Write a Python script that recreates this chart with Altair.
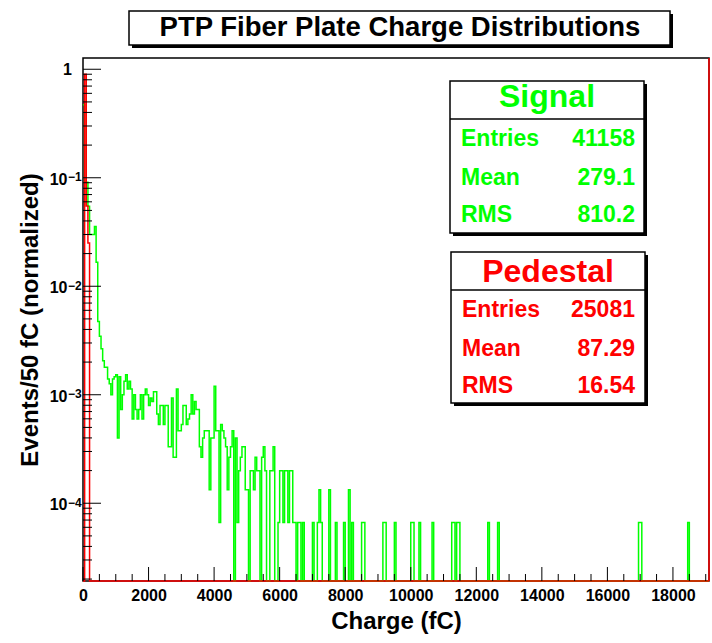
import altair as alt
import pandas as pd

# Plot-area size in pixels and axis ranges
W, H = 626, 523
X_MAX = 19100            # fC
BIN = 50                 # fC per bin
Y_MIN, Y_MAX = 1.92e-5, 1.27
NORM = 1.0 / 15040       # events -> normalized units

FONT = "Liberation Sans"
GREEN = "#00ff00"
RED = "#ff0000"

# Signal: events per 50 fC bin, bins 0..131
sig_counts = [
    7068, 1368, 1368, 820, 451, 451, 451, 535, 250, 71,
    52, 40, 31, 27, 27, 21, 19, 15, 21, 22,
    23, 6, 22, 11, 15, 20, 23, 17, 20, 17,
    9, 15, 11, 9, 11, 15, 9, 15, 17, 15,
    12, 14, 13, 16, 16, 10, 8, 12, 12, 8,
    12, 12, 5, 5, 14, 4, 4, 17, 7, 7,
    8, 12, 12, 8, 9, 10, 15, 10, 13, 11,
    11, 5, 4, 6, 7, 7, 7, 2, 6, 6,
    18, 7, 7, 1, 8, 7, 6, 5, 2, 4,
    5, 7, 0, 6, 1, 3, 4, 5, 5, 2,
    2, 0, 3, 3, 2, 4, 3, 3, 0, 4,
    5, 3, 0, 0, 3, 3, 5, 0, 0, 1,
    3, 3, 1, 3, 3, 1, 3, 3, 1, 1,
    0, 1,
]
# Signal tail: isolated non-empty bins beyond 6.6 pC
tail_bins = [132, 134, 140, 143, 144, 145, 150, 154, 159, 162, 164, 170, 171,
             183, 184, 190, 200, 201, 205, 213, 225, 226, 228, 229, 247, 253,
             339, 340, 369]
tail_counts = [1, 1, 1, 1, 2, 1, 2, 1, 1, 2, 1, 1, 1,
               1, 1, 1, 1, 1, 1, 1, 1, 1, 1, 1, 1, 1,
               1, 1, 1]

# Pedestal: normalized content of the first bins (rest empty)
ped_vals = [0.0, 0.9, 0.055, 0.025]

sig_stats = [("Entries", "41158"), ("Mean", "279.1"), ("RMS", "810.2")]
ped_stats = [("Entries", "25081"), ("Mean", "87.29"), ("RMS", "16.54")]

x_major = list(range(0, 18001, 2000))
x_minor = [v for v in range(500, 19001, 500) if v % 2000]
y_decades = [1e-4, 1e-3, 1e-2, 1e-1]
y_exponents = ["\u22124", "\u22123", "\u22122", "\u22121"]
y_minor = [m * 10.0 ** e for e in range(-5, 0) for m in range(2, 10)
           if Y_MIN <= m * 10.0 ** e <= Y_MAX]

N_BINS = X_MAX // BIN

sig_full = [0] * N_BINS
for i, c in enumerate(sig_counts):
    sig_full[i] = c
for b, c in zip(tail_bins, tail_counts):
    sig_full[b] = c
sig_norm = [c * NORM for c in sig_full]

ped_full = ped_vals + [0.0] * (N_BINS - len(ped_vals))


def step_frame(vals):
    # empty bins sit on the lower edge of the log axis
    ys = [max(v, Y_MIN) for v in vals]
    xs = [i * BIN for i in range(N_BINS)] + [X_MAX]
    return pd.DataFrame({"charge": xs, "value": ys + [ys[-1]]})


sig_df = step_frame(sig_norm)
ped_df = step_frame(ped_full)

x_scale = alt.Scale(domain=[0, X_MAX], nice=False, zero=False)
y_scale = alt.Scale(type="log", domain=[Y_MIN, Y_MAX], nice=False)

signal = alt.Chart(sig_df).mark_line(
    interpolate="step-after", color=GREEN, strokeWidth=1.5
).encode(
    x=alt.X("charge:Q", scale=x_scale, axis=alt.Axis(
        values=x_major, format="d", labelFont=FONT, labelFontSize=16,
        labelFontWeight="bold", labelColor="black", ticks=False, tickSize=0,
        domain=False, grid=False, labelPadding=6, labelFlush=False,
        labelOverlap=False, title="Charge (fC)", titleFont=FONT,
        titleFontSize=24, titleFontWeight="bold", titleColor="black",
        titleBaseline="alphabetic", titleX=W / 2, titleY=47)),
    y=alt.Y("value:Q", scale=y_scale, axis=alt.Axis(
        values=y_decades, labels=False, ticks=False, tickSize=0,
        domain=False, grid=False, title="Events/50 fC (normalized)",
        titleFont=FONT, titleFontSize=24, titleFontWeight="bold",
        titleColor="black", titleAngle=270, titleBaseline="alphabetic",
        titleAlign="center", titleX=-46, titleY=H / 2)),
)

pedestal = alt.Chart(ped_df).mark_line(
    interpolate="step-after", color=RED, strokeWidth=1.5
).encode(
    x=alt.X("charge:Q", scale=x_scale, axis=None),
    y=alt.Y("value:Q", scale=y_scale, axis=None),
)

right_edge = alt.Chart(pd.DataFrame({"charge": [X_MAX]})).mark_rule(
    color=RED, strokeWidth=1.5
).encode(x=alt.X("charge:Q", scale=x_scale, axis=None),
         y=alt.value(0), y2=alt.value(H))


# Inward-pointing ticks along the bottom and left edges
def x_ticks(values, length):
    return alt.Chart(pd.DataFrame({"charge": values})).mark_rule(
        color="black", strokeWidth=1
    ).encode(x=alt.X("charge:Q", scale=x_scale, axis=None),
             y=alt.value(H), y2=alt.value(H - length))


def y_ticks(values, length):
    return alt.Chart(pd.DataFrame({"value": values})).mark_rule(
        color="black", strokeWidth=1
    ).encode(y=alt.Y("value:Q", scale=y_scale, axis=None),
             x=alt.value(0), x2=alt.value(length))


# Decade labels: "1" and 10 with a raised exponent
dec_df = pd.DataFrame({"value": y_decades, "exp": y_exponents})
label_ten = alt.Chart(dec_df).mark_text(
    text="10", font=FONT, fontSize=16, fontWeight="bold", color="black",
    align="right", baseline="alphabetic", dy=7
).encode(y=alt.Y("value:Q", scale=y_scale, axis=None), x=alt.value(-15.5))
label_exp = alt.Chart(dec_df).mark_text(
    font=FONT, fontSize=12, fontWeight="bold", color="black",
    align="left", baseline="alphabetic", dy=3.5
).encode(y=alt.Y("value:Q", scale=y_scale, axis=None), x=alt.value(-15),
         text="exp:N")
label_one = alt.Chart(pd.DataFrame({"value": [1.0]})).mark_text(
    text="1", font=FONT, fontSize=16, fontWeight="bold", color="black",
    align="right", baseline="alphabetic", dy=6
).encode(y=alt.Y("value:Q", scale=y_scale, axis=None), x=alt.value(-11))

ONE = pd.DataFrame({"k": [0]})


def box(x0, y0, x1, y1):
    shadow = alt.Chart(ONE).mark_rect(fill="black").encode(
        x=alt.value(x0 + 3), x2=alt.value(x1 + 3),
        y=alt.value(y0 + 3), y2=alt.value(y1 + 3))
    face = alt.Chart(ONE).mark_rect(
        fill="white", stroke="black", strokeWidth=1.5
    ).encode(x=alt.value(x0), x2=alt.value(x1), y=alt.value(y0), y2=alt.value(y1))
    return [shadow, face]


def divider(x0, x1, y):
    return alt.Chart(ONE).mark_rule(color="black", strokeWidth=1.5).encode(
        x=alt.value(x0), x2=alt.value(x1), y=alt.value(y))


def label(text, x, y, size, color, align):
    return alt.Chart(ONE).mark_text(
        text=text, font=FONT, fontSize=size, fontWeight="bold", color=color,
        align=align, baseline="alphabetic"
    ).encode(x=alt.value(x), y=alt.value(y))


def stats_box(name, stats, color, x0, y0, x1, y1, y_div, y_head, row_y, x_left, x_right):
    parts = box(x0, y0, x1, y1) + [divider(x0, x1, y_div)]
    parts.append(label(name, (x0 + x1) / 2, y_head, 32, color, "center"))
    for (key, val), yy in zip(stats, row_y):
        parts.append(label(key, x_left, yy, 23, color, "left"))
        parts.append(label(val, x_right, yy, 23, color, "right"))
    return parts


layers = [
    signal, pedestal, right_edge,
    x_ticks(x_major, 14), x_ticks(x_minor, 7),
    y_ticks(y_decades + [1.0], 18), y_ticks(y_minor, 9),
    label_ten, label_exp, label_one,
]
layers += box(46, -47, 587, -13)
layers.append(label("PTP Fiber Plate Charge Distributions", 317, -22, 27.5, "black", "center"))
layers += stats_box("Signal", sig_stats, GREEN, 367, 23, 561, 175, 61, 49,
                    [88, 127, 164], 378, 552)
layers += stats_box("Pedestal", ped_stats, RED, 368, 194, 562, 345, 232, 224,
                    [259, 298, 335], 379, 552)

chart = alt.layer(*layers).resolve_axis(
    x="independent", y="independent"
).properties(
    width=W, height=H,
    autosize=alt.AutoSizeParams(type="none"),
    padding={"left": 83, "top": 58, "right": 3, "bottom": 62},
    background="white",
).configure_view(stroke="black", strokeWidth=1.5)

chart.save("out.html", embed_options={"renderer": "svg", "actions": False})
